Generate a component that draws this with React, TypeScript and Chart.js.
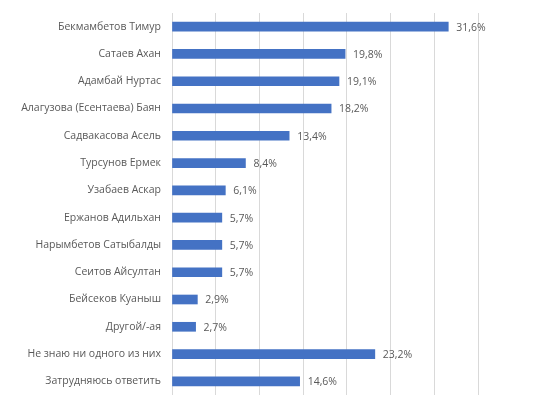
import React, { useEffect, useRef } from "react";
import { Chart, registerables } from "chart.js";

Chart.register(...registerables);

const categories: string[] = [
  "Бекмамбетов Тимур",
  "Сатаев Ахан",
  "Адамбай Нуртас",
  "Алагузова (Есентаева) Баян",
  "Садвакасова Асель",
  "Турсунов Ермек",
  "Узабаев Аскар",
  "Ержанов Адильхан",
  "Нарымбетов Сатыбалды",
  "Сеитов Айсултан",
  "Бейсеков Куаныш",
  "Другой/-ая",
  "Не знаю ни одного из них",
  "Затрудняюсь ответить",
];

const values: number[] = [31.6, 19.8, 19.1, 18.2, 13.4, 8.4, 6.1, 5.7, 5.7, 5.7, 2.9, 2.7, 23.2, 14.6];

const xMin = 0;
const xMax = 35;
const xStep = 5;

const FONT = "'Open Sans', sans-serif";
const TEXT_COLOR = "#595959";
const BAR_COLOR = "#4472C4";

const fmt = (v: number) => v.toFixed(1).replace(".", ",") + "%";

const valueLabels = {
  id: "valueLabels",
  afterDatasetsDraw(chart: any) {
    const ctx = chart.ctx;
    const meta = chart.getDatasetMeta(0);
    ctx.save();
    ctx.font = `10.5px ${FONT}`;
    ctx.fillStyle = TEXT_COLOR;
    ctx.textAlign = "left";
    ctx.textBaseline = "middle";
    meta.data.forEach((bar: any, i: number) => {
      ctx.fillText(fmt(values[i]), bar.x + 8, bar.y + 1);
    });
    ctx.restore();
  },
};

export default function App() {
  const ref = useRef<HTMLCanvasElement | null>(null);
  useEffect(() => {
    if (!ref.current) return;
    const chart = new Chart(ref.current, {
      type: "bar",
      data: {
        labels: categories,
        datasets: [
          {
            data: values,
            backgroundColor: BAR_COLOR,
            barThickness: 9,
          },
        ],
      },
      options: {
        indexAxis: "y",
        animation: false,
        responsive: false,
        layout: { padding: { top: 13, bottom: 8, right: 58, left: 0 } },
        plugins: { legend: { display: false }, tooltip: { enabled: false } },
        scales: {
          x: {
            min: xMin,
            max: xMax,
            ticks: { display: false, stepSize: xStep },
            grid: { color: "#d9d9d9", drawTicks: false, lineWidth: 1 },
            border: { display: false },
            afterFit: (s: any) => {
              s.height = 0;
              s.paddingLeft = 0;
              s.paddingRight = 0;
            },
          },
          y: {
            ticks: {
              color: TEXT_COLOR,
              font: { family: FONT, size: 10.5 },
              padding: 11,
            },
            grid: { display: false, drawTicks: false },
            border: { display: false },
            afterFit: (s: any) => {
              s.width = 172;
              s.paddingTop = 0;
              s.paddingBottom = 0;
            },
          },
        },
      },
      plugins: [valueLabels],
    });
    return () => chart.destroy();
  }, []);
  return (
    <div style={{ position: "absolute", left: 0, top: 0, width: 536, height: 403, background: "#fff" }}>
      <canvas ref={ref} width={536} height={403} style={{ width: 536, height: 403 }} />
    </div>
  );
}
